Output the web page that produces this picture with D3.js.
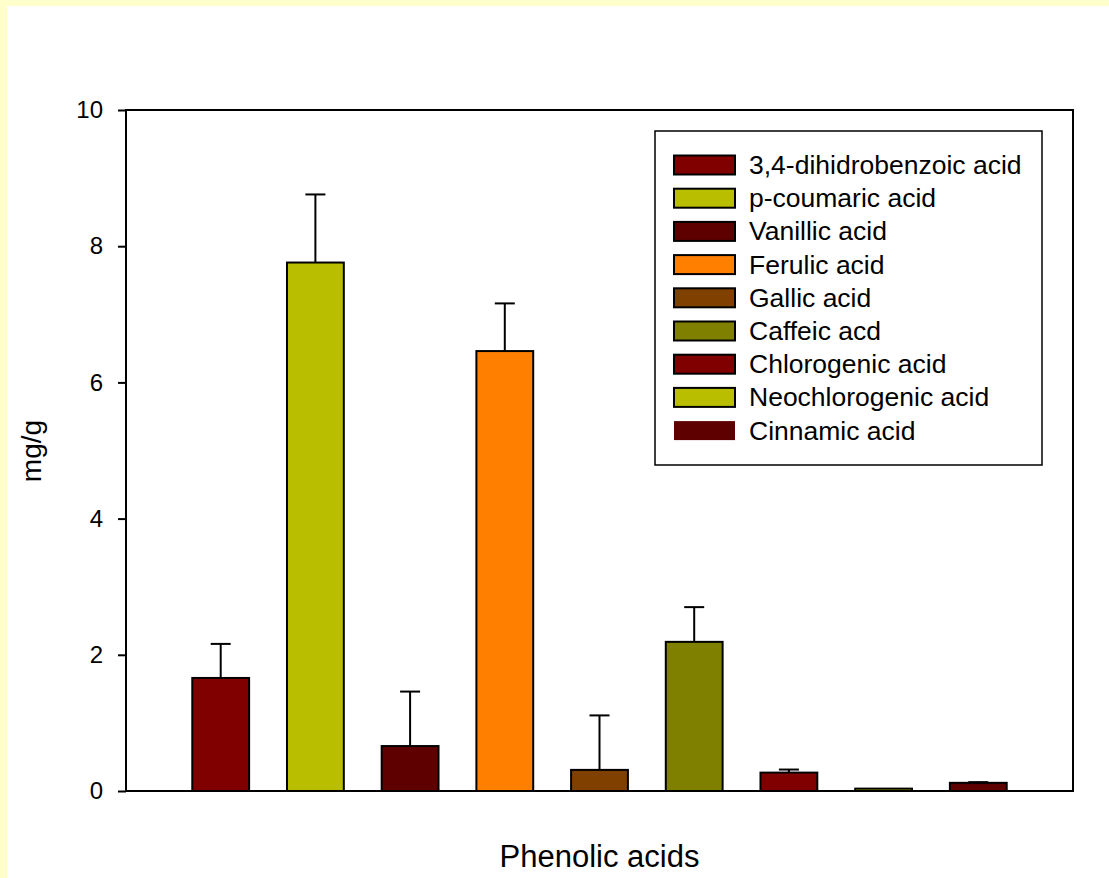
<!DOCTYPE html>
<html>
<head>
<meta charset="utf-8">
<script src="https://cdn.jsdelivr.net/npm/d3@7"></script>
<style>
  html, body { margin: 0; padding: 0; background: #ffffcc; }
  svg { display: block; }
  text { font-family: "Liberation Sans", Arial, sans-serif; fill: #000; }
</style>
</head>
<body>
<script>
// datos
var categorias = ["3,4-dihidrobenzoic acid", "p-coumaric acid", "Vanillic acid", "Ferulic acid", "Gallic acid", "Caffeic acd", "Chlorogenic acid", "Neochlorogenic acid", "Cinnamic acid"];
var valores = [1.66, 7.76, 0.66, 6.46, 0.31, 2.19, 0.27, 0.035, 0.12];
var errores = [0.50, 1.00, 0.80, 0.70, 0.80, 0.51, 0.045, 0, 0.01];
var yTicks = [0, 2, 4, 6, 8, 10];
var colores = ["#800000", "#b9bf00", "#5e0000", "#ff8000", "#804000", "#808000", "#800000", "#b9bf00", "#5e0000"];

var W = 1109, H = 878;
var margin = { left: 126, right: 36, top: 110, bottom: 87 };
var w = W - margin.left - margin.right;
var h = H - margin.top - margin.bottom;

var svg = d3.select("body").append("svg").attr("width", W).attr("height", H);

// fondo blanco con borde amarillo arriba e izquierda
svg.append("rect").attr("x", 7).attr("y", 6).attr("width", W - 7).attr("height", H - 6).attr("fill", "#fff");

var g = svg.append("g").attr("transform", "translate(" + margin.left + "," + margin.top + ")");

var x = d3.scaleBand().domain(categorias).range([0, w]).paddingInner(0.4).paddingOuter(0.7);
var y = d3.scaleLinear().domain([0, 10]).range([h, 0]);

// barras
g.selectAll("rect.bar").data(categorias).enter().append("rect")
  .attr("class", "bar")
  .attr("x", function (d) { return x(d); })
  .attr("y", function (d, i) { return y(valores[i]); })
  .attr("width", x.bandwidth())
  .attr("height", function (d, i) { return h - y(valores[i]); })
  .attr("fill", function (d, i) { return colores[i]; })
  .attr("stroke", "#000")
  .attr("stroke-width", 2);

// barras de error (solo hacia arriba)
var err = g.selectAll("g.err").data(categorias).enter().append("g").attr("class", "err")
  .filter(function (d, i) { return errores[i] > 0; });
err.append("line")
  .attr("x1", function (d) { return x(d) + x.bandwidth() / 2; })
  .attr("x2", function (d) { return x(d) + x.bandwidth() / 2; })
  .attr("y1", function (d) { return y(valores[categorias.indexOf(d)]); })
  .attr("y2", function (d) { var i = categorias.indexOf(d); return y(valores[i] + errores[i]); })
  .attr("stroke", "#000").attr("stroke-width", 2);
err.append("line")
  .attr("x1", function (d) { return x(d) + x.bandwidth() / 2 - 10; })
  .attr("x2", function (d) { return x(d) + x.bandwidth() / 2 + 10; })
  .attr("y1", function (d) { var i = categorias.indexOf(d); return y(valores[i] + errores[i]); })
  .attr("y2", function (d) { var i = categorias.indexOf(d); return y(valores[i] + errores[i]); })
  .attr("stroke", "#000").attr("stroke-width", 2);

// marco
g.append("rect").attr("x", 0).attr("y", 0).attr("width", w).attr("height", h)
  .attr("fill", "none").attr("stroke", "#000").attr("stroke-width", 2);

// eje y
var yAxis = g.append("g").call(d3.axisLeft(y).tickValues(yTicks).tickSize(8).tickPadding(15).tickFormat(d3.format("d")));
yAxis.select(".domain").remove();
yAxis.selectAll(".tick line").attr("stroke", "#000").attr("stroke-width", 2);
yAxis.selectAll(".tick text").style("font-size", "24px").style("font-family", "Liberation Sans, Arial, sans-serif").attr("fill", "#000");

// titulos de ejes
svg.append("text").attr("x", margin.left + w / 2).attr("y", 867).attr("text-anchor", "middle")
  .style("font-size", "31px").text("Phenolic acids");
svg.append("text").attr("transform", "translate(41,451) rotate(-90)").attr("text-anchor", "middle")
  .style("font-size", "28px").text("mg/g");

// leyenda
var legend = svg.append("g").attr("transform", "translate(655,131)");
legend.append("rect").attr("width", 387).attr("height", 334).attr("fill", "#fff")
  .attr("stroke", "#000").attr("stroke-width", 1.5);
var items = legend.selectAll("g.item").data(categorias).enter().append("g").attr("class", "item")
  .attr("transform", function (d, i) { return "translate(0," + (34 + i * 33.2) + ")"; });
items.append("rect").attr("x", 19).attr("y", -9.5).attr("width", 61).attr("height", 19)
  .attr("fill", function (d, i) { return colores[i]; })
  .attr("stroke", function (d, i) { return i === categorias.length - 1 ? "none" : "#000"; })
  .attr("stroke-width", 2);
items.append("text").attr("x", 94).attr("y", 9).style("font-size", "26.5px").text(function (d) { return d; });
</script>
</body>
</html>
